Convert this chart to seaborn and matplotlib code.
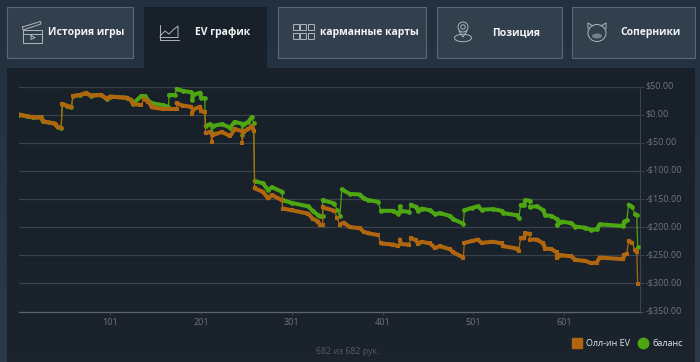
import numpy as np
import pandas as pd
import matplotlib
matplotlib.use("Agg")
import matplotlib.pyplot as plt
from matplotlib.colors import LinearSegmentedColormap
from matplotlib.patches import Rectangle, Circle, Ellipse
from matplotlib.lines import Line2D
from matplotlib.transforms import ScaledTranslation
import seaborn as sns

ev_hands = [1,9,16,25,27,40,43,47,48,53,58,60,68,74,80,91,97,101,119,124,126,135,138,143,147,159,174,174,181,190,191,192,200,201,205,206,211,213,214,224,233,238,246,246,248,253,257,259,260,
            269,275,279,290,291,301,319,324,330,332,335,335,348,351,354,358,365,376,380,385,396,399,413,418,420,421,430,432,438,440,444,453,459,464,475,479,490,491,499,506,510,523,532,534,549,551,553,557,558,563,563,571,578,580,587,593,593,598,609,613,624,631,637,640,666,667,670,672,676,679,681,682]
ev_values = [0,-3,-5,-5,-12,-16,-22,-23,19,16,13,33,35,38,34,35,28,32,30,26,19,17,28,23,13,10,10,20,16,14,1,9,14,6,5,-33,-31,-49,-36,-31,-38,-26,-29,-50,-30,-26,-20,-29,-131,
             -137,-149,-143,-152,-167,-170,-176,-185,-190,-196,-196,-165,-171,-184,-196,-192,-200,-202,-208,-211,-214,-229,-231,-234,-222,-230,-231,-220,-223,-230,-226,-229,-237,-234,-239,-245,-254,-228,-225,-222,-228,-226,-229,-234,-238,-242,-220,-220,-211,-212,-222,-222,-229,-238,-239,-245,-254,-250,-252,-258,-260,-264,-263,-254,-257,-250,-247,-225,-228,-241,-244,-301]
bal_hands = [1,9,16,25,27,40,43,47,48,53,58,60,68,74,80,91,97,101,119,124,126,135,139,141,147,159,165,166,172,174,181,190,191,192,200,201,205,206,211,213,214,224,233,238,246,246,248,253,257,259,260,
             269,275,279,290,291,301,319,324,330,332,335,335,348,351,354,356,365,376,380,385,396,399,413,418,420,421,430,432,438,440,444,453,459,464,475,479,490,491,499,506,510,523,532,534,549,551,553,557,558,563,563,571,578,580,587,593,593,598,609,613,624,631,637,640,666,667,670,672,676,679,681,682]
bal_values = [0,-3,-5,-5,-12,-16,-22,-23,19,16,13,33,35,38,34,35,28,32,30,26,19,33,33,27,20,17,14,35,35,46,42,40,26,35,39,30,29,-20,-17,-33,-20,-17,-23,-13,-16,-36,-17,-13,-4,-15,-118,
              -122,-134,-129,-137,-152,-157,-163,-171,-179,-181,-181,-152,-158,-170,-181,-133,-141,-142,-149,-152,-155,-171,-171,-176,-163,-171,-173,-160,-164,-171,-167,-170,-177,-175,-180,-186,-194,-170,-166,-163,-169,-168,-171,-175,-179,-183,-161,-161,-152,-153,-164,-163,-170,-179,-180,-186,-196,-190,-193,-199,-201,-205,-204,-195,-198,-190,-188,-160,-164,-177,-179,-235]
y_ticks = [50,0,-50,-100,-150,-200,-250,-300,-350]
x_ticks = [101,201,301,401,501,601]
tab_labels = ["История игры","EV график","карманные карты","Позиция","Соперники"]
series_names = ["Олл-ин EV","баланс"]
footer = "682 из 682 рук."

ORANGE, GREEN = "#B0660F", "#4DA612"
sns.set_theme(style="dark", rc={"axes.grid":False})
plt.rcParams["font.family"] = ["Open Sans","DejaVu Sans"]
W,H = 700,362
fig = plt.figure(figsize=(7,3.62), dpi=100, facecolor="#22303F")

# page furniture in pixel coordinates
ui = fig.add_axes([0,0,1,1], zorder=0); ui.axis("off")
ramp = np.linspace(0,1,64).reshape(-1,1)
page = LinearSegmentedColormap.from_list("page",["#22303F","#2C3A47"])
panel = LinearSegmentedColormap.from_list("panel",["#18202A","#1B232C"])
ui.imshow(ramp,cmap=page,extent=(0,W,H,0),aspect="auto",zorder=0)
ui.imshow(ramp,cmap=panel,extent=(7,695,H,68.5),aspect="auto",zorder=1)
ui.set_xlim(0,W); ui.set_ylim(H,0)
ui.add_patch(Rectangle((144,7),123,62,fc="#18202A",ec="none",zorder=2))
tabs = [(7,133,86.5),(144,267,222.5),(278,426,369),(437,562,516.5),(572,695,650.5)]
for i,((a,b,c),t) in enumerate(zip(tabs,tab_labels)):
    if i!=1:
        ui.add_patch(Rectangle((a,7),b-a,50.5,fc="#323F4D",ec="#5B6875",lw=0.8,zorder=2))
    ui.text(c,32.5,t,color="#F2F4F5",fontsize=7.45,fontweight="bold",ha="center",va="center",zorder=3)
ic = dict(color="#AEB5BB",lw=0.7,solid_capstyle="round",zorder=3)
ip = dict(fc="none",ec="#AEB5BB",lw=0.7,zorder=3)
# clapper
ui.add_patch(Rectangle((23,30),19,12.5,**ip))
ui.plot([23,42],[34,34],**ic); ui.plot([22.5,40.5,41,23,22.5],[27,21.5,24,30,27],**ic)
ui.plot([31,31,35,31],[35.5,39.5,37.5,35.5],**ic)
# area chart
ui.plot([159.5,159.5,178.5],[25,39.5,39.5],**ic); ui.plot([160,165,169,173,178,178,160],[36,31,34,30,26,37.5,37.5],**ic)
# grid
for cx in (292.5,300,307.5):
    for cy in (24,33):
        ui.add_patch(Rectangle((cx,cy),6,6,**ip))
# location
ui.add_patch(Circle((463,27),5,**ip)); ui.add_patch(Circle((463,27),2.2,**ip))
ui.add_patch(Ellipse((463,38),17,7.5,**ip)); ui.plot([459,463,467],[31,37,31],**ic)
# opponent face
ui.add_patch(Ellipse((597,33),18,17,**ip))
ui.plot([588,588,593],[29,23,26],**ic); ui.plot([606,606,601],[29,23,26],**ic)
ui.add_patch(Ellipse((597,36),10,5,fc="#AEB5BB",ec="none",alpha=.55,zorder=3))

# chart
x0,x1,y0,y1 = 19,639.5,86.5,311.5
ax = fig.add_axes([x0/W,1-y1/H,(x1-x0)/W,(y1-y0)/H], zorder=1)
ax.patch.set_visible(False)

def frame(hands, values):
    h,v = np.array(hands,float),np.array(values,float)
    jump = (np.abs(np.diff(v))>9)&(np.abs(np.diff(v))/np.maximum(np.diff(h),1)>3.5)
    return pd.DataFrame({"hand":h,"value":v,"run":np.r_[0,np.cumsum(jump)]})

for hands,values,col,mk,ms in ((bal_hands,bal_values,GREEN,"o",3.4),(ev_hands,ev_values,ORANGE,"s",3.0)):
    d = frame(hands,values)
    sns.lineplot(data=d,x="hand",y="value",estimator=None,sort=False,color=col,lw=0.9,ax=ax,zorder=3 if col==GREEN else 5)
    sns.lineplot(data=d,x="hand",y="value",units="run",estimator=None,sort=False,color=col,lw=2.9,ax=ax,
                 solid_capstyle="round",solid_joinstyle="round",zorder=3 if col==GREEN else 5)
    ax.plot(d["hand"],d["value"],ls="none",marker=mk,ms=ms,mfc=col,mec=col,mew=0,zorder=4 if col==GREEN else 6)

ax.set_xlim(0.45,684); ax.set_ylim(-350,50)
ax.set_xticks(x_ticks); ax.set_yticks(y_ticks)
ax.set_yticklabels([("-" if t<0 else "")+f"${abs(t):.2f}" for t in y_ticks])
ax.yaxis.tick_right(); ax.set_xlabel(""); ax.set_ylabel("")
ax.grid(axis="y",color="#39414B",lw=0.9); ax.grid(axis="x",visible=False); ax.set_axisbelow(True)
for s in ("top","left"): ax.spines[s].set_visible(False)
ax.spines["right"].set_visible(True); ax.spines["right"].set_color("#3A424C"); ax.spines["right"].set_linewidth(0.8)
ax.spines["bottom"].set_visible(True); ax.spines["bottom"].set_color("#5C646E"); ax.spines["bottom"].set_linewidth(0.9)
ax.tick_params(axis="y",colors="#6F757C",labelcolor="#6F757C",labelsize=6.5,length=3,width=0.7,pad=1.6,right=True,color="#3A424C")
ax.tick_params(axis="x",colors="#6F757C",labelcolor="#6F757C",labelsize=6.5,length=2.5,width=0.7,pad=2,bottom=True,color="#3A424C")
shift = ScaledTranslation(0,1.5/100,fig.dpi_scale_trans)
for lab in ax.get_yticklabels():
    lab.set_transform(lab.get_transform()+shift)

handles = [Line2D([],[],ls="none",marker="s",ms=7,mfc=ORANGE,mec=ORANGE),
           Line2D([],[],ls="none",marker="o",ms=7.5,mfc=GREEN,mec=GREEN)]
leg = fig.legend(handles,series_names,loc="center right",bbox_to_anchor=(682.5/W,1-344/H),ncol=2,frameon=False,
                 fontsize=6.5,labelcolor="#E4E6E8",handletextpad=0.05,columnspacing=0.35,borderpad=0,borderaxespad=0)
leg.set_zorder(3)
fig.text(348/W,1-352/H,footer,color="#565C64",fontsize=6.3,ha="center",va="center",zorder=3)
fig.savefig("out.png",dpi=100,facecolor=fig.get_facecolor())
